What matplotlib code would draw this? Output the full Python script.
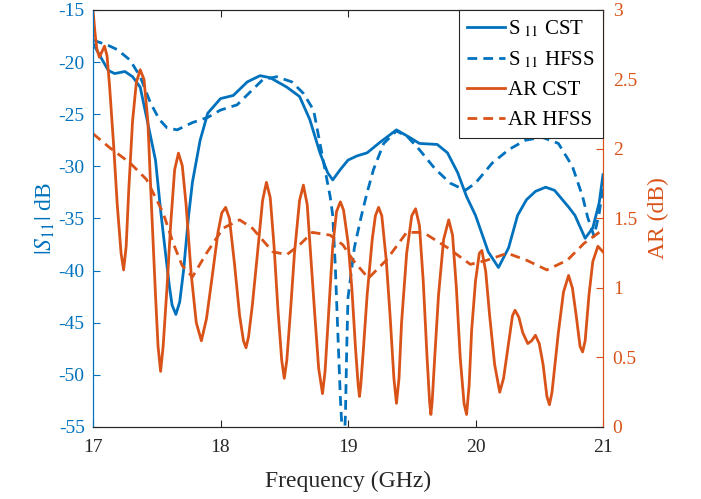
import numpy
import matplotlib as mpl
mpl.use('Agg')
from matplotlib import pyplot as plt
from matplotlib.ticker import FormatStrFormatter

# S11 (dB), left axis
f_s11_cst = [17.00, 17.05, 17.12, 17.17, 17.25, 17.31, 17.37, 17.42, 17.49, 17.53,
             17.57, 17.60, 17.62, 17.65, 17.68, 17.71, 17.75, 17.78, 17.84, 17.90,
             18.00, 18.10, 18.21, 18.31, 18.39, 18.52, 18.62, 18.70, 18.78, 18.84,
             18.88, 18.94, 19.00, 19.07, 19.15, 19.25, 19.38, 19.48, 19.56, 19.70,
             19.78, 19.86, 19.93, 20.00, 20.10, 20.18, 20.26, 20.33, 20.40, 20.47,
             20.55, 20.62, 20.73, 20.78, 20.86, 20.92, 20.97, 21.00]
s11_cst = [-18.2, -19.3, -20.8, -21.1, -20.9, -21.4, -22.4, -25.3, -29.4, -34.2,
           -38.5, -41.6, -43.3, -44.2, -43.0, -40.0, -34.7, -31.5, -27.5, -24.9,
           -23.5, -23.2, -21.9, -21.3, -21.5, -22.4, -23.3, -25.5, -28.7, -30.6,
           -31.3, -30.3, -29.4, -29.0, -28.7, -27.7, -26.5, -27.2, -27.8, -27.9,
           -28.7, -30.6, -32.9, -34.7, -38.2, -39.7, -37.8, -34.7, -33.2, -32.4,
           -32.0, -32.3, -33.9, -34.7, -36.9, -35.9, -33.5, -30.8]

f_s11_hfss = [17.00, 17.05, 17.12, 17.19, 17.29, 17.37, 17.45, 17.52, 17.58, 17.66,
              17.78, 17.90, 18.00, 18.13, 18.23, 18.33, 18.44, 18.56, 18.65, 18.73,
              18.78, 18.83, 18.86, 18.88, 18.90, 18.92, 18.94, 18.965, 18.98, 18.99,
              19.00, 19.05, 19.10, 19.15, 19.20, 19.28, 19.38, 19.47, 19.56, 19.68,
              19.80, 19.92, 20.00, 20.13, 20.26, 20.39, 20.52, 20.65, 20.76, 20.84,
              20.88, 20.93, 20.97, 21.00]
s11_hfss = [-17.9, -18.1, -18.4, -18.8, -19.8, -21.4, -23.9, -25.5, -26.3, -26.5,
            -25.8, -25.3, -24.6, -24.1, -22.9, -21.7, -21.4, -21.9, -23.0, -24.6,
            -27.8, -31.0, -32.9, -34.7, -39.5, -45.9, -52.2, -58.0, -53.8, -47.4,
            -42.6, -37.8, -35.0, -32.5, -30.3, -27.8, -26.6, -27.2, -28.4, -30.2,
            -31.6, -32.3, -31.6, -29.7, -28.4, -27.5, -27.2, -27.8, -30.0, -32.9,
            -34.9, -36.7, -34.5, -32.0]

# axial ratio (dB), right axis
f_ar_cst = [17.00, 17.015, 17.03, 17.05, 17.07, 17.09, 17.11, 17.13, 17.16, 17.19,
            17.22, 17.24, 17.26, 17.28, 17.31, 17.34, 17.37, 17.40, 17.43, 17.46,
            17.49, 17.51, 17.53, 17.55, 17.58, 17.61, 17.64, 17.67, 17.70, 17.73,
            17.77, 17.81, 17.85, 17.89, 17.93, 17.98, 18.01, 18.04, 18.07, 18.11,
            18.15, 18.18, 18.20, 18.22, 18.25, 18.29, 18.33, 18.36, 18.39, 18.42,
            18.45, 18.48, 18.50, 18.52, 18.55, 18.58, 18.62, 18.65, 18.68, 18.71,
            18.74, 18.77, 18.80, 18.82, 18.85, 18.88, 18.91, 18.94, 18.965, 19.00,
            19.03, 19.06, 19.08, 19.09, 19.10, 19.12, 19.15, 19.19, 19.215, 19.24,
            19.265, 19.30, 19.33, 19.36, 19.38, 19.40, 19.42, 19.46, 19.50, 19.53,
            19.56, 19.59, 19.62, 19.64, 19.65, 19.66, 19.68, 19.71, 19.75, 19.79,
            19.82, 19.85, 19.88, 19.91, 19.93, 19.95, 19.97, 20.00, 20.03, 20.05,
            20.08, 20.11, 20.15, 20.19, 20.22, 20.26, 20.29, 20.31, 20.34, 20.37,
            20.41, 20.44, 20.47, 20.50, 20.53, 20.56, 20.58, 20.60, 20.65, 20.69,
            20.73, 20.76, 20.79, 20.82, 20.84, 20.86, 20.89, 20.92, 20.96, 20.98,
            21.00]
ar_cst = [3.00, 2.84, 2.72, 2.66, 2.70, 2.74, 2.67, 2.45, 2.05, 1.60,
          1.25, 1.13, 1.30, 1.70, 2.20, 2.48, 2.57, 2.50, 2.20, 1.56,
          0.95, 0.58, 0.40, 0.58, 1.00, 1.47, 1.85, 1.97, 1.88, 1.60,
          1.10, 0.75, 0.62, 0.78, 1.05, 1.40, 1.54, 1.58, 1.50, 1.17,
          0.80, 0.62, 0.57, 0.65, 0.88, 1.25, 1.63, 1.76, 1.65, 1.30,
          0.85, 0.48, 0.35, 0.48, 0.85, 1.25, 1.63, 1.74, 1.60, 1.20,
          0.80, 0.42, 0.24, 0.40, 0.85, 1.30, 1.55, 1.62, 1.56, 1.33,
          1.00, 0.55, 0.30, 0.22, 0.30, 0.55, 0.95, 1.35, 1.52, 1.58,
          1.52, 1.20, 0.80, 0.35, 0.17, 0.35, 0.75, 1.25, 1.52, 1.57,
          1.45, 1.05, 0.50, 0.18, 0.09, 0.18, 0.50, 0.95, 1.35, 1.49,
          1.38, 1.00, 0.50, 0.17, 0.09, 0.30, 0.70, 1.05, 1.25, 1.27,
          1.12, 0.81, 0.45, 0.25, 0.35, 0.61, 0.80, 0.84, 0.79, 0.68,
          0.60, 0.62, 0.66, 0.60, 0.45, 0.22, 0.16, 0.25, 0.68, 0.97,
          1.09, 1.00, 0.80, 0.58, 0.54, 0.62, 0.95, 1.19, 1.30, 1.28,
          1.26]

f_ar_hfss = [17.00, 17.13, 17.29, 17.42, 17.55, 17.63, 17.70, 17.78, 17.89, 18.02,
             18.15, 18.25, 18.41, 18.52, 18.62, 18.72, 18.86, 18.96, 19.04, 19.16,
             19.30, 19.46, 19.59, 19.78, 19.96, 20.09, 20.25, 20.40, 20.56, 20.72,
             20.85, 21.00]
ar_hfss = [2.11, 2.01, 1.90, 1.78, 1.54, 1.32, 1.16, 1.08, 1.25, 1.43,
           1.49, 1.43, 1.26, 1.24, 1.31, 1.40, 1.38, 1.31, 1.20, 1.07,
           1.20, 1.40, 1.40, 1.29, 1.17, 1.20, 1.25, 1.20, 1.13, 1.20,
           1.32, 1.42]

blue = '#0072BD'
orange = '#D95319'
dark = '#262626'

plt.rcParams['font.family'] = ['Liberation Serif', 'DejaVu Serif']
plt.rcParams['mathtext.fontset'] = 'stix'
plt.rcParams['axes.unicode_minus'] = False

fig = plt.figure(figsize=(7.01, 4.99), dpi=100)
ax = fig.add_axes([0.1327, 0.1443, 0.7275, 0.8357])
ax2 = ax.twinx()

lw = 2.0
dash = (3.5, 2.2)
h1, = ax.plot(f_s11_cst, s11_cst, color=blue, lw=lw)
h2, = ax.plot(f_s11_hfss, s11_hfss, color=blue, lw=lw, ls='--', dashes=dash)
h3, = ax2.plot(f_ar_cst, ar_cst, color=orange, lw=lw)
h4, = ax2.plot(f_ar_hfss, ar_hfss, color=orange, lw=lw, ls='--', dashes=dash)

ax.set_xlim(17, 21)
ax.set_ylim(-55, -15)
ax.set_xticks([17, 18, 19, 20, 21])
ax.set_yticks(numpy.arange(-55, -14, 5))
ax2.set_ylim(0, 3)
ax2.set_yticks(numpy.arange(0, 3.01, 0.5))
ax2.yaxis.set_major_formatter(FormatStrFormatter('%g'))

fs = 14
ax.tick_params(axis='x', direction='in', top=True, colors=dark, labelsize=fs,
               length=5, pad=9)
ax.tick_params(axis='y', direction='in', colors=blue, labelsize=fs, length=5, pad=6)
ax2.tick_params(axis='y', direction='in', colors=orange, labelsize=fs, length=5, pad=7)
for a in (ax, ax2):
    a.spines['top'].set_color(dark)
    a.spines['bottom'].set_color(dark)
    a.spines['left'].set_color(blue)
    a.spines['right'].set_color(orange)

ax.set_xlabel('Frequency (GHz)', fontsize=17, color=dark, labelpad=10)
ax.set_ylabel(r'$|S_{11}|$ dB', fontsize=17, color=blue, labelpad=1)
ax2.set_ylabel('AR (dB)', fontsize=17, color=orange, labelpad=8)

leg = ax2.legend([h1, h2, h3, h4],
                 [r'S$_{\ 11}$ CST', r'S$_{\ 11}$ HFSS', 'AR CST', 'AR HFSS'],
                 loc='upper right', fontsize=15, frameon=True, fancybox=False,
                 framealpha=1, edgecolor=dark, borderaxespad=0.0,
                 handlelength=1.8, handletextpad=0.15, labelspacing=0.5,
                 borderpad=0.4)
leg.get_frame().set_linewidth(0.8)

fig.savefig('out.png', dpi=100)
